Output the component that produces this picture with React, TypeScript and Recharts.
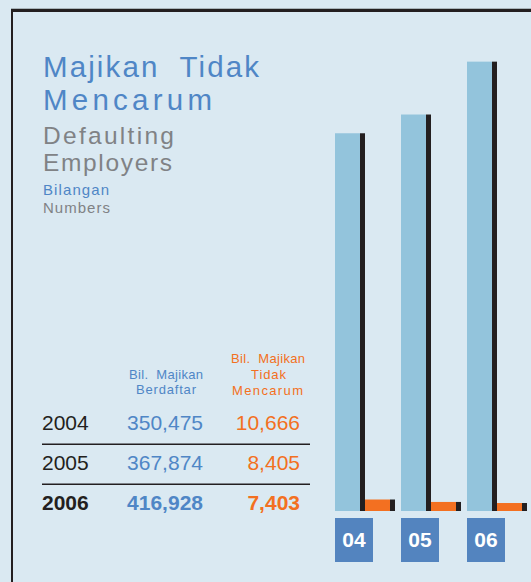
import React from 'react';
import { BarChart, Bar, XAxis, YAxis } from 'recharts';

const categories = ['04', '05', '06'];
const years = ['2004', '2005', '2006'];
const registered = [350475, 367874, 416928];
const defaulting = [10666, 8405, 7403];
const registeredLabels = ['350,475', '367,874', '416,928'];
const defaultingLabels = ['10,666', '8,405', '7,403'];

const data = categories.map((c, i) => ({ cat: c, registered: registered[i], defaulting: defaulting[i] }));

const BG = '#dae9f2';
const DARK = '#231f20';
const BLUE_TXT = '#4f86c6';
const GRAY_TXT = '#808285';
const ORANGE = '#f37021';
const BAR_BLUE = '#93c4dc';
const BOX_BLUE = '#5384bf';
const FONT = '"Liberation Sans", Arial, sans-serif';

const shadowShape = (fill: string) => (props: any) => {
  const { x, y, width, height } = props;
  if (!height || height <= 0) return <g />;
  return (
    <g>
      <rect x={x} y={y} width={width - 5} height={height} fill={fill} />
      <rect x={x + width - 5} y={y} width={5} height={height} fill={DARK} />
    </g>
  );
};

const Tick = (props: any) => {
  const { x, y, payload } = props;
  return (
    <g>
      <rect x={x - 30} y={y} width={38} height={44} fill={BOX_BLUE} />
      <text x={x - 11} y={y + 29} textAnchor="middle" fill="#ffffff" fontWeight="bold" fontSize={21} fontFamily={FONT}>
        {payload.value}
      </text>
    </g>
  );
};

const T = (p: any) => {
  const { children, ...rest } = p;
  return (
    <text lengthAdjust="spacing" style={{ whiteSpace: 'pre' }} {...rest}>
      {children}
    </text>
  );
};

export default function App() {
  const rowBase = [430, 470, 510];
  return (
    <div style={{ position: 'absolute', left: 0, top: 0, width: 531, height: 582, background: BG, overflow: 'hidden' }}>
      <div style={{ position: 'absolute', left: 11, top: 8, width: 531, height: 1, background: '#a9b4ba' }} />
      <div style={{ position: 'absolute', left: 11, top: 9, width: 530, height: 580, borderTop: `3px solid ${DARK}`, borderLeft: `2.5px solid ${DARK}` }} />
      <svg width={531} height={582} style={{ position: 'absolute', left: 0, top: 0 }} fontFamily={FONT}>
        <T x={43} y={77} fontSize={29.5} fill={BLUE_TXT} textLength={216}>Majikan  Tidak</T>
        <T x={43} y={110} fontSize={29.5} fill={BLUE_TXT} textLength={169}>Mencarum</T>
        <T x={43} y={143.5} fontSize={24.5} fill={GRAY_TXT} textLength={131}>Defaulting</T>
        <T x={43} y={171} fontSize={24.5} fill={GRAY_TXT} textLength={129}>Employers</T>
        <T x={43} y={195} fontSize={15} fill={BLUE_TXT} textLength={66}>Bilangan</T>
        <T x={43} y={213} fontSize={15} fill={GRAY_TXT} textLength={67}>Numbers</T>

        <T x={129} y={379} fontSize={13} fill={BLUE_TXT} textLength={74}>Bil.  Majikan</T>
        <T x={136} y={394} fontSize={13} fill={BLUE_TXT} textLength={60}>Berdaftar</T>
        <T x={231} y={363} fontSize={13} fill={ORANGE} textLength={74}>Bil.  Majikan</T>
        <T x={251} y={379} fontSize={13} fill={ORANGE} textLength={35}>Tidak</T>
        <T x={232} y={395} fontSize={13} fill={ORANGE} textLength={71}>Mencarum</T>

        {years.map((yr, i) => {
          const bold = i === years.length - 1;
          return (
            <g key={yr} fontWeight={bold ? 'bold' : 'normal'} fontSize={21}>
              <text x={42} y={rowBase[i]} fill={DARK}>{yr}</text>
              <text x={203} y={rowBase[i]} fill={BLUE_TXT} textAnchor="end">{registeredLabels[i]}</text>
              <text x={300} y={rowBase[i]} fill={ORANGE} textAnchor="end">{defaultingLabels[i]}</text>
            </g>
          );
        })}
        <line x1={42} x2={310} y1={444.2} y2={444.2} stroke={DARK} strokeWidth={1.5} />
        <line x1={42} x2={310} y1={484.2} y2={484.2} stroke={DARK} strokeWidth={1.5} />
      </svg>
      <div style={{ position: 'absolute', left: 0, top: 0 }}>
        <BarChart
          width={531}
          height={582}
          data={data}
          margin={{ top: 26, right: 1, left: 332, bottom: 21 }}
          barGap={0}
          barSize={30}
        >
          <XAxis dataKey="cat" height={50} axisLine={false} tickLine={false} tickSize={0} tickMargin={7} tick={<Tick />} interval={0} />
          <YAxis hide domain={[0, 450000]} />
          <Bar dataKey="registered" isAnimationActive={false} shape={shadowShape(BAR_BLUE)} />
          <Bar dataKey="defaulting" isAnimationActive={false} shape={shadowShape(ORANGE)} />
        </BarChart>
      </div>
    </div>
  );
}
